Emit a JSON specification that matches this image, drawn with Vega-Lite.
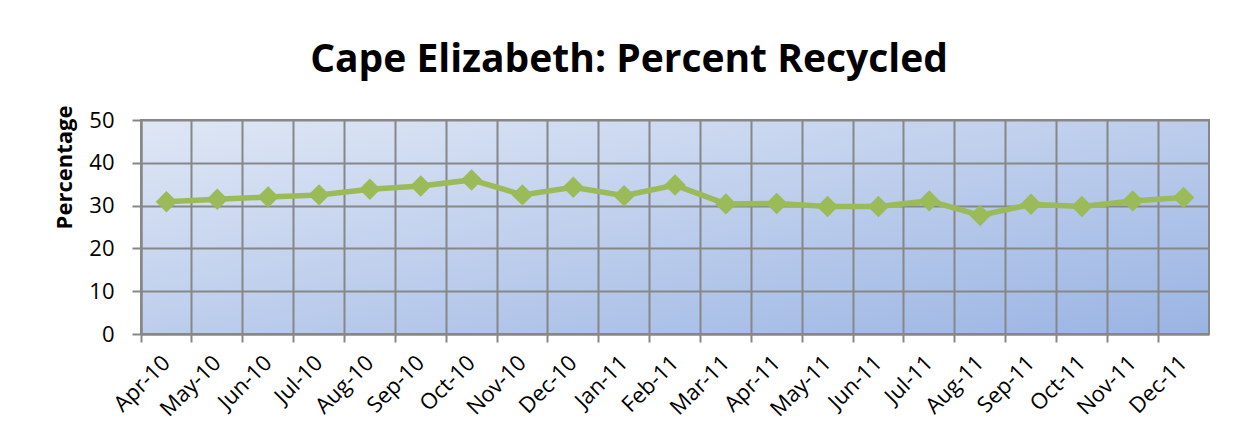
{
  "$schema": "https://vega.github.io/schema/vega-lite/v6.json",
  "width": 1068,
  "height": 214,
  "autosize": "none",
  "padding": {"left": 141, "top": 120, "right": 30, "bottom": 114},
  "background": "white",
  "title": {
    "text": "Cape Elizabeth: Percent Recycled",
    "font": "Open Sans",
    "fontSize": 39,
    "fontWeight": "bold",
    "color": "#000000",
    "anchor": "middle",
    "frame": "group",
    "dx": -46,
    "offset": 25
  },
  "data": {
    "values": [
      {"month": "Apr-10", "pct": 30.9},
      {"month": "May-10", "pct": 31.5},
      {"month": "Jun-10", "pct": 32.0},
      {"month": "Jul-10", "pct": 32.5},
      {"month": "Aug-10", "pct": 33.8},
      {"month": "Sep-10", "pct": 34.6},
      {"month": "Oct-10", "pct": 36.0},
      {"month": "Nov-10", "pct": 32.5},
      {"month": "Dec-10", "pct": 34.3},
      {"month": "Jan-11", "pct": 32.3},
      {"month": "Feb-11", "pct": 34.8},
      {"month": "Mar-11", "pct": 30.4},
      {"month": "Apr-11", "pct": 30.5},
      {"month": "May-11", "pct": 29.8},
      {"month": "Jun-11", "pct": 29.8},
      {"month": "Jul-11", "pct": 31.1},
      {"month": "Aug-11", "pct": 27.7},
      {"month": "Sep-11", "pct": 30.3},
      {"month": "Oct-11", "pct": 29.8},
      {"month": "Nov-11", "pct": 31.1},
      {"month": "Dec-11", "pct": 31.9}
    ]
  },
  "mark": {
    "type": "line",
    "color": "#9BBB59",
    "strokeWidth": 5.5,
    "point": {"shape": "diamond", "size": 460, "filled": true, "color": "#9BBB59", "opacity": 1}
  },
  "encoding": {
    "x": {
      "field": "month",
      "type": "ordinal",
      "sort": null,
      "scale": {"type": "band", "paddingInner": 0, "paddingOuter": 0},
      "axis": {
        "title": null,
        "labelAngle": -45,
        "labelAlign": "right",
        "labelBaseline": "middle",
        "labelFont": "Open Sans",
        "labelFontSize": 22,
        "labelColor": "#000000",
        "labelPadding": 17,
        "bandPosition": 0,
        "grid": true,
        "gridColor": "#878787",
        "gridWidth": 2,
        "gridOpacity": 1,
        "ticks": true,
        "tickColor": "#878787",
        "tickWidth": 2,
        "tickSize": 8,
        "domainColor": "#878787",
        "domainWidth": 2
      }
    },
    "y": {
      "field": "pct",
      "type": "quantitative",
      "scale": {"domain": [0, 50], "nice": false},
      "axis": {
        "title": "Percentage",
        "titleFont": "Open Sans",
        "titleFontSize": 22,
        "titleFontWeight": "bold",
        "titleColor": "#000000",
        "titleAngle": -90,
        "titleAlign": "center",
        "titleBaseline": "middle",
        "titleX": -77,
        "titleY": 47,
        "values": [0, 10, 20, 30, 40, 50],
        "labelFont": "Open Sans",
        "labelFontSize": 22,
        "labelColor": "#000000",
        "labelPadding": 18,
        "grid": true,
        "gridColor": "#878787",
        "gridWidth": 2,
        "gridOpacity": 1,
        "tickColor": "#878787",
        "tickWidth": 2,
        "tickSize": 9,
        "domainColor": "#878787",
        "domainWidth": 2
      }
    }
  },
  "config": {
    "view": {
      "fill": {
        "gradient": "linear",
        "x1": 0, "y1": 0, "x2": 1, "y2": 1,
        "stops": [
          {"offset": 0, "color": "#DFE7F5"},
          {"offset": 1, "color": "#9AB4E3"}
        ]
      },
      "stroke": "#878787",
      "strokeWidth": 2
    }
  }
}
